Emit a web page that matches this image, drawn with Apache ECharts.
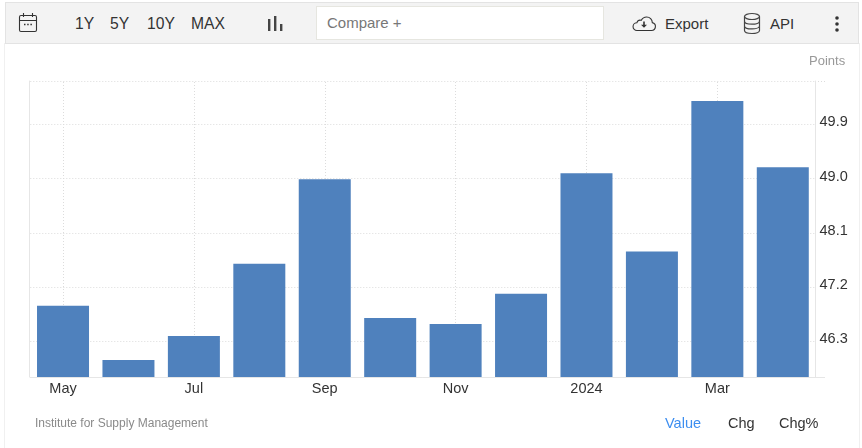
<!DOCTYPE html>
<html>
<head>
<meta charset="utf-8">
<title>Institute for Supply Management</title>
<script src="https://cdn.jsdelivr.net/npm/echarts@6/dist/echarts.min.js"></script>
<style>
  html, body { margin: 0; padding: 0; background: #fff; }
  body { width: 862px; height: 448px; overflow: hidden; position: relative; font-family: "Liberation Sans", Arial, sans-serif; }
  #chart { position: absolute; left: 0; top: 0; width: 862px; height: 448px; }
  .frame { position: absolute; top: 43px; width: 1px; height: 405px; background: #f0f0f0; }
  #toolbar { position: absolute; left: 5px; top: 2px; width: 852px; height: 40px; background: #f3f3f3; border: 1px solid #e3e3e3; }
  #toolbar span, #toolbar svg, #compare { position: absolute; }
  #toolbar span { top: 12px; font-size: 15px; line-height: 18px; color: #333; }
  #toolbar span.range { font-size: 15.7px; }
  #compare { left: 310px; top: 3px; width: 286px; height: 32px; background: #fff; border: 1px solid #e6e6e0; }
  #compare b { position: absolute; left: 10px; top: 7px; font-weight: normal; font-size: 15px; line-height: 18px; color: #777; }
</style>
</head>
<body>
<div id="chart"></div>
<div class="frame" style="left:4px"></div>
<div class="frame" style="left:859px"></div>
<div id="toolbar">
  <svg style="left:12px;top:9px" width="20" height="22" viewBox="0 0 20 22" fill="none" stroke="#333" stroke-width="1.1">
    <rect x="1.5" y="3.5" width="17" height="16" rx="1.5"/><path d="M1.5 8.5h17M5.5 1v4M14.5 1v4"/><path d="M6 12.5h1.5M9.2 12.5h1.5M12.4 12.5h1.5" stroke-width="1.5"/>
  </svg>
  <span class="range" style="left:69px">1Y</span>
  <span class="range" style="left:104px">5Y</span>
  <span class="range" style="left:141px">10Y</span>
  <span class="range" style="left:185px">MAX</span>
  <svg style="left:261px;top:12px" width="16" height="18" viewBox="0 0 16 18" fill="#444">
    <rect x="1" y="4" width="2.4" height="12"/><rect x="7" y="1" width="2.4" height="15"/><rect x="13" y="9" width="2.4" height="7"/>
  </svg>
  <div id="compare"><b>Compare +</b></div>
  <svg style="left:625px;top:11px" width="26" height="20" viewBox="0 0 26 20" fill="none" stroke="#333" stroke-width="1.1">
    <path d="M6 16.5h14.5a4 4 0 0 0 .8-7.9 5.6 5.6 0 0 0-5.6-5.6 6 6 0 0 0-5.4 3.3 3.6 3.6 0 0 0-4.4 2.4A3.9 3.9 0 0 0 6 16.5z"/>
    <path d="M13 7.5v5" stroke-width="1.6"/><path d="M10 10.8h6l-3 3z" fill="#333" stroke="none"/>
  </svg>
  <span style="left:659px">Export</span>
  <svg style="left:737px;top:9px" width="18" height="23" viewBox="0 0 18 23" fill="none" stroke="#444" stroke-width="1.2">
    <ellipse cx="9" cy="4.5" rx="7.5" ry="3"/><path d="M1.5 4.5v14c0 1.7 3.4 3 7.5 3s7.5-1.3 7.5-3v-14M1.5 9.2c0 1.7 3.4 3 7.5 3s7.5-1.3 7.5-3M1.5 13.9c0 1.7 3.4 3 7.5 3s7.5-1.3 7.5-3"/>
  </svg>
  <span style="left:764px">API</span>
  <svg style="left:828px;top:12px" width="6" height="18" viewBox="0 0 6 18" fill="#333">
    <circle cx="3" cy="3" r="1.8"/><circle cx="3" cy="9" r="1.8"/><circle cx="3" cy="15" r="1.8"/>
  </svg>
</div>
<script>
const categories = ['May', 'Jun', 'Jul', 'Aug', 'Sep', 'Oct', 'Nov', 'Dec', '2024', 'Feb', 'Mar', 'Apr'];
const values = [46.9, 46.0, 46.4, 47.6, 49.0, 46.7, 46.6, 47.1, 49.1, 47.8, 50.3, 49.2];
const yTicks = [46.3, 47.2, 48.1, 49.0, 49.9];
const xLabelled = ['May', 'Jul', 'Sep', 'Nov', '2024', 'Mar'];
const sourceText = 'Institute for Supply Management';
const unitText = 'Points';
const rangeTabs = ['Value', 'Chg', 'Chg%'];

const gridColor = '#e6e6e6';
const dotColor = '#dcdcdc';
const dotPattern = [1, 2];
const fontFamily = '"Liberation Sans", Arial, sans-serif';
const chart = echarts.init(document.getElementById('chart'), null, { renderer: 'canvas' });

chart.setOption({
  animation: false,
  textStyle: { fontFamily: fontFamily },
  grid: { left: 30.3, right: 46.5, top: 81, bottom: 71 },
  xAxis: {
    type: 'category',
    data: categories,
    axisLine: { lineStyle: { color: gridColor } },
    axisTick: { show: false },
    splitLine: { show: false },
    axisLabel: { color: '#333', fontSize: 14.5, margin: 4, interval: 1 },
  },
  yAxis: [
    {
      type: 'value',
      position: 'right',
      min: 45.71,
      max: 50.62,
      axisLine: { show: true, lineStyle: { color: gridColor } },
      axisTick: { show: false, customValues: yTicks },
      splitLine: { show: true, lineStyle: { color: dotColor, type: dotPattern } },
      axisLabel: {
        customValues: yTicks,
        color: '#333',
        fontSize: 14.5,
        margin: 4,
        verticalAlign: 'bottom',
        lineHeight: 4,
        formatter: (v) => v.toFixed(1),
      },
    },
    {
      // left border, also scales the bars half a pixel below the dotted lines like the original
      type: 'value',
      position: 'left',
      offset: 1,
      min: 45.72,
      max: 50.63,
      axisLine: { show: true, lineStyle: { color: gridColor } },
      axisTick: { show: false },
      axisLabel: { show: false },
      splitLine: { show: false },
    },
  ],
  series: [
    {
      // vertical dotted lines only at the labelled months, plus the top edge
      type: 'line',
      data: [],
      z: 1,
      silent: true,
      markLine: {
        silent: true,
        z: 1,
        symbol: 'none',
        label: { show: false },
        lineStyle: { color: dotColor, type: dotPattern, width: 1 },
        data: xLabelled.map((c) => ({ xAxis: c })).concat([{ yAxis: 50.62 }]),
      },
    },
    {
      type: 'bar',
      data: values,
      yAxisIndex: 1,
      z: 3,
      barWidth: 52,
      itemStyle: { color: '#4f81bd' },
    },
  ],
  graphic: [
    { type: 'line', shape: { x1: 815, y1: 377.5, x2: 825, y2: 377.5 }, style: { stroke: gridColor } },
    { type: 'line', shape: { x1: 815, y1: 81.5, x2: 825, y2: 81.5 }, style: { stroke: dotColor, lineDash: dotPattern } },
    { type: 'text', left: 809, top: 55, style: { text: unitText, fontSize: 13, fill: '#999', fontFamily: fontFamily } },
    { type: 'text', left: 35, top: 418, style: { text: sourceText, fontSize: 12, fill: '#8a8a8a', fontFamily: fontFamily } },
    { type: 'text', left: 665, top: 416, style: { text: rangeTabs[0], fontSize: 14.5, fill: '#3d8ef0', fontFamily: fontFamily } },
    { type: 'text', left: 728, top: 416, style: { text: rangeTabs[1], fontSize: 14.5, fill: '#333', fontFamily: fontFamily } },
    { type: 'text', left: 779, top: 416, style: { text: rangeTabs[2], fontSize: 14.5, fill: '#333', fontFamily: fontFamily } },
  ],
});
</script>
</body>
</html>
